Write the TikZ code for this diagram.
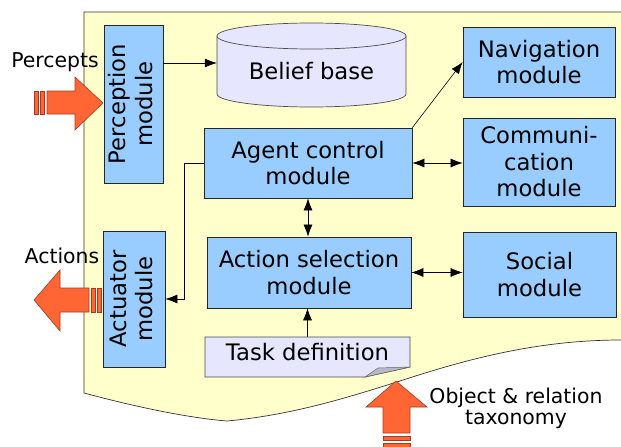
\documentclass[tikz,border=0pt]{standalone}
\usepackage{fontspec}
\setmainfont{DejaVu Sans}
\usetikzlibrary{arrows.meta,calc}

\definecolor{bgyellow}{HTML}{FFFFCC}
\definecolor{modblue}{HTML}{99CCFF}
\definecolor{lavender}{HTML}{E6E6FF}
\definecolor{foldgrey}{HTML}{B8B8C8}
\definecolor{arroworange}{HTML}{FF6633}
\definecolor{arrowedge}{RGB}{160,60,40}

\begin{document}
\begin{tikzpicture}[x=1pt,y=1pt,yscale=-1,
  font=\fontsize{22.7}{26.5}\selectfont,
  module/.style={draw=black!85,fill=modblue,line width=0.7pt,align=center,inner sep=0pt},
  store/.style={draw=black!70,fill=lavender,line width=0.7pt},
  oneway/.style={-{Latex[length=12pt,width=9pt]},line width=0.6pt},
  twoway/.style={{Latex[length=12pt,width=9pt]}-{Latex[length=12pt,width=9pt]},line width=0.6pt},
  fat/.style={draw=arrowedge,fill=arroworange,line width=0.6pt},
  outtext/.style={font=\fontsize{20.4}{21}\selectfont,align=center}]
\useasboundingbox (0,0) rectangle (621,447);

%Shape: Wave [agent]
\draw[draw=black!80,fill=bgyellow,line width=0.7pt] (640,12) -- (84,12) -- (84,393) .. controls (140,408) and (190,418) .. (227,421) .. controls (290,415) and (340,400) .. (400,381) .. controls (470,358) and (540,340) .. (621,340) -- (640,340) ;

%Shape: Can [belief base]
\draw[store] (217,36) -- (217,94) arc[start angle=180,end angle=0,x radius=94.5,y radius=13] -- (406,36) ;
\draw[store] (311.5,36) ellipse [x radius=94.5,y radius=13] ;
\node (belief) at (311.5,71) [minimum width=189,minimum height=60] {Belief base};
\coordinate (bb) at ($(belief.west)+(0,-8)$);

%Shape: Rectangle [modules]
\node[module,minimum width=59,minimum height=158] (percep) at (133.5,104) {\rotatebox{90}{\begin{tabular}{@{}c@{}}Perception\\module\end{tabular}}};
\node[module,minimum width=62,minimum height=136] (actuator) at (134,299) {\rotatebox{90}{\begin{tabular}{@{}c@{}}Actuator\\module\end{tabular}}};
\node[module,minimum width=152,minimum height=70] (nav) at (539,62) {Navigation\\module};
\node[module,minimum width=152,minimum height=88] (comm) at (539,162) {Communi-\\cation\\module};
\node[module,minimum width=208,minimum height=70] (agent) at (308,163) {Agent control\\module};
\node[module,minimum width=204,minimum height=71] (action) at (309,272.5) {Action selection\\module};
\node[module,minimum width=153,minimum height=85] (social) at (539.5,274.5) {Social\\module};

%Shape: Note [task definition]
\draw[store] (205,337) -- (410,337) -- (410,367) -- (365,377) -- (205,377) -- cycle ;
\draw[draw=black!60,fill=foldgrey,line width=0.5pt] (365,377) -- (378,368) -- (410,367) -- cycle ;
\node (task) at (307.5,352) [minimum width=205,minimum height=30] {Task definition};

%Straight Lines [links]
\draw[oneway] (percep.east |- bb) -- (bb) ;
\draw[oneway] (agent.north east) -- (nav.west) ;
\draw[twoway] (agent.east) -- (agent.east -| comm.west) ;
\draw[twoway] (agent.south) -- (agent.south |- action.north) ;
\draw[twoway] (action.east) -- (action.east -| social.west) ;
\draw[oneway] (task.north) -- (task.north |- action.south) ;
\draw[oneway] (agent.west) -- ++(-19,0) |- (actuator.east) ;

%Shape: Striped Arrow [percepts]
\draw[fat] (47,91) -- (75,91) -- (75,77) -- (103,103) -- (75,130) -- (75,114) -- (47,114) -- cycle ;
\draw[fat] (34,91) rectangle (38,114) ;
\draw[fat] (40,91) rectangle (44,114) ;

%Shape: Striped Arrow [actions]
\draw[fat] (89,288) -- (60,288) -- (60,270) -- (34,300) -- (60,331) -- (60,312) -- (89,312) -- cycle ;
\draw[fat] (91,288) rectangle (95,312) ;
\draw[fat] (97,288) rectangle (101,312) ;

%Shape: Striped Arrow [taxonomy]
\draw[fat] (383,433) -- (383,407) -- (366,407) -- (396,381) -- (427,407) -- (410,407) -- (410,433) -- cycle ;
\draw[fat] (383,436) rectangle (410,440) ;
\draw[fat] (383,443) rectangle (410,447) ;

% outside texts
\node[outtext] (percepts) at (55,62.5) {Percepts};
\node[outtext] (actions) at (62,255.5) {Actions};
\node[outtext] (taxonomy) at (516,408) {Object \& relation\\taxonomy};
\end{tikzpicture}
\end{document}
